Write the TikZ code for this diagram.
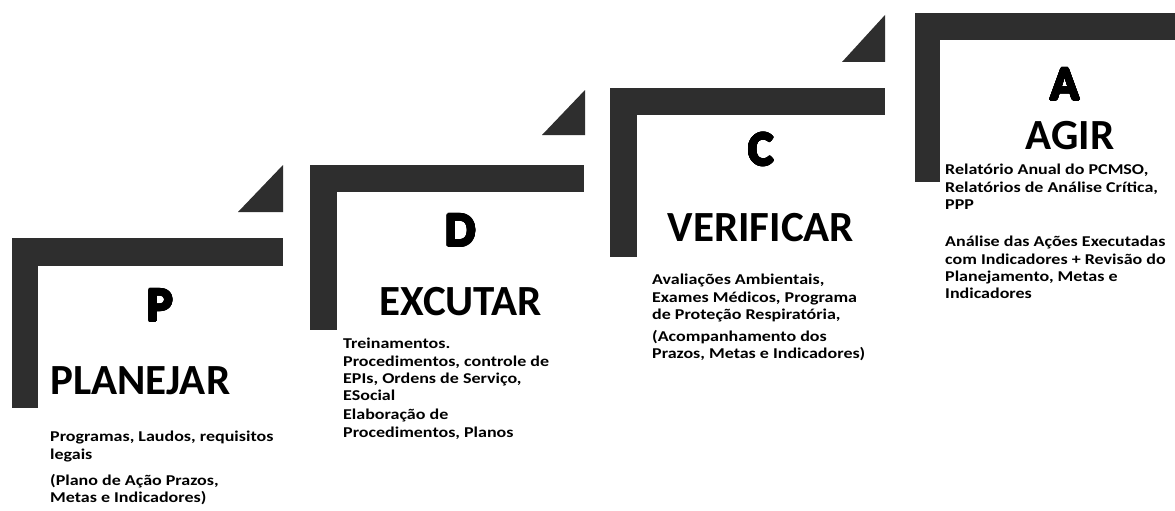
\documentclass[tikz,border=0pt]{standalone}
\usepackage{fontspec}
\usepackage{contour}
\contourlength{1.1pt}
\contournumber{24}
\setmainfont{Carlito}
\newfontfamily\bodyfont[FakeStretch=1.2]{Carlito}
\newcommand{\heavyletter}[1]{\contour{black}{#1}}
\begin{document}
\begin{tikzpicture}[x=1pt,y=-1pt,
  bar/.style={fill=black!82,draw=none},
  tri/.style={fill=black!82,draw=none},
  bigletter/.style={font=\fontsize{48}{48}\selectfont\bfseries,inner sep=0,anchor=base},
  title/.style={font=\fontsize{43}{43}\selectfont\bfseries,inner sep=0,anchor=base},
  body/.style={font=\bodyfont\fontsize{15}{17.4}\selectfont\bfseries,align=left,inner sep=0,anchor=north west}]
\useasboundingbox[fill=white] (0,0) rectangle (1175,511);
% P step
\fill[bar] (12,238) rectangle (283,266);
\fill[bar] (12,238) rectangle (38,408);
\fill[tri] (238,212) -- (283,212) -- (283,165) -- cycle;
% D step
\fill[bar] (310,165) rectangle (584,192);
\fill[bar] (310,165) rectangle (337,330);
\fill[tri] (542,135) -- (585,135) -- (585,90) -- cycle;
% C step
\fill[bar] (610,88) rectangle (885,115);
\fill[bar] (610,88) rectangle (637,257);
\fill[tri] (842,62) -- (885,62) -- (885,15) -- cycle;
% A step
\fill[bar] (915,13) rectangle (1175,40);
\fill[bar] (915,13) rectangle (940,182);
% letters
\node[bigletter] (lp) at (160,321) {\heavyletter{P}};
\node[bigletter] (ld) at (461,246) {\heavyletter{D}};
\node[bigletter] (lc) at (761,165) {\heavyletter{C}};
\node[bigletter] (la) at (1065,100) {\heavyletter{A}};
% titles
\node[title,anchor=base west] (tp) at (50,394) {PLANEJAR};
\node[title] (td) at (461,315) {EXCUTAR};
\node[title] (tc) at (761,241) {VERIFICAR};
\node[title] (ta) at (1070,149) {AGIR};
% bodies
\node[body] (p1) at (50,431) {Programas, Laudos, requisitos\\legais};
\node[body] (p2) at (50,474) {(Plano de Ação Prazos,\\Metas e Indicadores)};
\node[body] (d1) at (343,338) {Treinamentos.\\Procedimentos, controle de\\EPIs, Ordens de Serviço,\\ESocial};
\node[body] (d2) at (343,409) {Elaboração de\\Procedimentos, Planos};
\node[body] (c1) at (652,274) {Avaliações Ambientais,\\Exames Médicos, Programa\\de Proteção Respiratória,};
\node[body] (c2) at (652,330) {(Acompanhamento dos\\Prazos, Metas e Indicadores)};
\node[body] (a1) at (945,164) {Relatório Anual do PCMSO,\\Relatórios de Análise Crítica,\\PPP};
\node[body] (a2) at (945,236) {Análise das Ações Executadas\\com Indicadores + Revisão do\\Planejamento, Metas e\\Indicadores};
\end{tikzpicture}
\end{document}
